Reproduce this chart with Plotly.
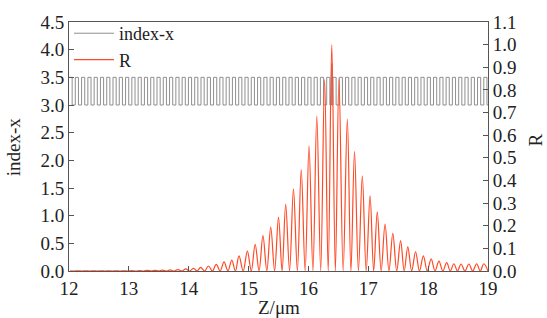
import plotly.graph_objects as go

# ---- data ----
# index-x profile: layer edges (alternating high / low levels)
index_edges = [
    12.000, 12.053, 12.105, 12.158, 12.210, 12.263, 12.315, 12.368, 12.420, 12.473,
    12.525, 12.578, 12.630, 12.683, 12.735, 12.788, 12.840, 12.893, 12.945, 12.998,
    13.050, 13.103, 13.155, 13.208, 13.260, 13.313, 13.365, 13.418, 13.470, 13.523,
    13.575, 13.628, 13.680, 13.733, 13.785, 13.838, 13.890, 13.943, 13.995, 14.048,
    14.100, 14.153, 14.205, 14.258, 14.310, 14.363, 14.415, 14.468, 14.520, 14.573,
    14.625, 14.678, 14.730, 14.783, 14.835, 14.888, 14.940, 14.993, 15.045, 15.098,
    15.150, 15.203, 15.255, 15.308, 15.360, 15.413, 15.465, 15.518, 15.570, 15.623,
    15.675, 15.728, 15.780, 15.833, 15.885, 15.938, 15.990, 16.043, 16.095, 16.148,
    16.200, 16.253, 16.305, 16.358, 16.410, 16.463, 16.515, 16.568, 16.620, 16.673,
    16.725, 16.778, 16.830, 16.883, 16.935, 16.988, 17.040, 17.093, 17.145, 17.198,
    17.250, 17.303, 17.355, 17.408, 17.460, 17.513, 17.565, 17.618, 17.670, 17.723,
    17.775, 17.828, 17.880, 17.933, 17.985, 18.038, 18.090, 18.143, 18.195, 18.248,
    18.300, 18.353, 18.405, 18.458, 18.510, 18.563, 18.615, 18.668, 18.720, 18.773,
    18.825, 18.878, 18.930, 18.983,
]
index_levels = [3.5, 3.0]          # high, low
index_end = 19.0
defect_z = [16.385, 16.395]        # narrow defect spike at the centre
defect_n = [3.75, 3.0]

# R: peaks and zero troughs
R_peak_z = [12.02, 12.15, 12.28, 12.41, 12.54, 12.66, 12.79, 12.92, 13.05, 13.18,
            13.31, 13.44, 13.56, 13.69, 13.82, 13.95, 14.08, 14.20, 14.33, 14.46,
            14.59, 14.72, 14.84, 14.98, 15.11, 15.24, 15.37, 15.50, 15.62, 15.75,
            15.88, 16.01, 16.14, 16.27, 16.39, 16.51, 16.65, 16.77, 16.90, 17.03,
            17.15, 17.28, 17.41, 17.54, 17.66, 17.79, 17.92, 18.05, 18.18, 18.31,
            18.43, 18.55, 18.68, 18.81, 18.93]
R_peak_v = [0.0005, 0.0005, 0.0006, 0.0007, 0.0008, 0.0009, 0.001, 0.0012, 0.0015, 0.002,
            0.003, 0.003, 0.004, 0.005, 0.006, 0.009, 0.012, 0.016, 0.022, 0.029,
            0.040, 0.048, 0.067, 0.088, 0.118, 0.156, 0.194, 0.238, 0.294, 0.363,
            0.448, 0.553, 0.684, 0.846, 1.000, 0.849, 0.671, 0.529, 0.420, 0.332,
            0.261, 0.207, 0.166, 0.134, 0.107, 0.085, 0.067, 0.054, 0.044, 0.037,
            0.032, 0.031, 0.031, 0.032, 0.032]
R_trough_z = [12.085, 12.215, 12.345, 12.475, 12.60, 12.725, 12.855, 12.985, 13.115, 13.245,
              13.375, 13.50, 13.625, 13.755, 13.885, 14.015, 14.14, 14.265, 14.395, 14.525,
              14.655, 14.78, 14.91, 15.045, 15.175, 15.305, 15.435, 15.56, 15.685, 15.815,
              15.945, 16.075, 16.205, 16.33, 16.45, 16.58, 16.71, 16.835, 16.965, 17.09,
              17.215, 17.345, 17.475, 17.60, 17.725, 17.855, 17.985, 18.115, 18.245, 18.37,
              18.49, 18.615, 18.745, 18.87, 19.0]
R_trough_v = [0.0] * len(R_trough_z)

x_ticks = [12, 13, 14, 15, 16, 17, 18, 19]

# ---- build series ----
iz, iv = [], []
for k, z in enumerate(index_edges):
    iz.append(z)
    iv.append(index_levels[k % 2])
pts = list(zip(iz, iv)) + list(zip(defect_z, defect_n))
pts.sort(key=lambda p: p[0])
pts.append((index_end, pts[-1][1]))
iz = [p[0] for p in pts]
iv = [p[1] for p in pts]

rp = sorted(list(zip(R_peak_z, R_peak_v)) + list(zip(R_trough_z, R_trough_v)))
rz = [p[0] for p in rp]
rv = [p[1] for p in rp]

FONT = "Liberation Serif"
AX = "#555555"
TXT = "#222222"

fig = go.Figure()
fig.add_trace(go.Scatter(x=iz, y=iv, mode="lines", name="index-x",
                         line=dict(color="#8f8f8f", width=1, shape="hv")))
fig.add_trace(go.Scatter(x=rz, y=rv, mode="lines", name="R", yaxis="y2",
                         line=dict(color="#ff4a26", width=1.2, shape="spline", smoothing=1)))

fig.update_layout(
    width=547, height=318,
    margin=dict(l=69, r=59, t=22, b=47, autoexpand=False),
    paper_bgcolor="white", plot_bgcolor="white",
    font=dict(family=FONT, size=19, color=TXT),
    showlegend=True,
    legend=dict(x=0.0, y=1.028, xanchor="left", yanchor="top",
                bgcolor="rgba(0,0,0,0)", font=dict(size=18),
                tracegroupgap=0, itemwidth=40),
    xaxis=dict(range=[12, 19], tickvals=x_ticks, ticks="inside", ticklen=5,
               tickcolor=AX, showline=True, linecolor=AX, linewidth=1, mirror=True,
               showgrid=False, zeroline=False, automargin=False),
    yaxis=dict(range=[0, 4.5], dtick=0.5, tickformat=".1f", ticks="inside", ticklen=5,
               tickcolor=AX, showline=True, linecolor=AX, linewidth=1,
               showgrid=False, zeroline=False, automargin=False),
    yaxis2=dict(range=[0, 1.1], dtick=0.1, tickformat=".1f", ticks="inside", ticklen=5,
                tickcolor=AX, showline=True, linecolor=AX, linewidth=1,
                overlaying="y", side="right", showgrid=False, zeroline=False,
                automargin=False),
    annotations=[
        dict(text="Z/μm", xref="paper", yref="paper", x=0.5, y=-0.145,
             xanchor="center", yanchor="middle", showarrow=False,
             font=dict(size=19, color=TXT)),
        dict(text="index-x", xref="paper", yref="paper", x=-0.132, y=0.5,
             xanchor="center", yanchor="middle", textangle=-90, showarrow=False,
             font=dict(size=19, color=TXT)),
        dict(text="R", xref="paper", yref="paper", x=1.113, y=0.525,
             xanchor="center", yanchor="middle", textangle=-90, showarrow=False,
             font=dict(size=19, color=TXT)),
    ],
)

fig.write_html("out.html", config={"displayModeBar": False},
               post_script="document.body.style.margin='0';")
